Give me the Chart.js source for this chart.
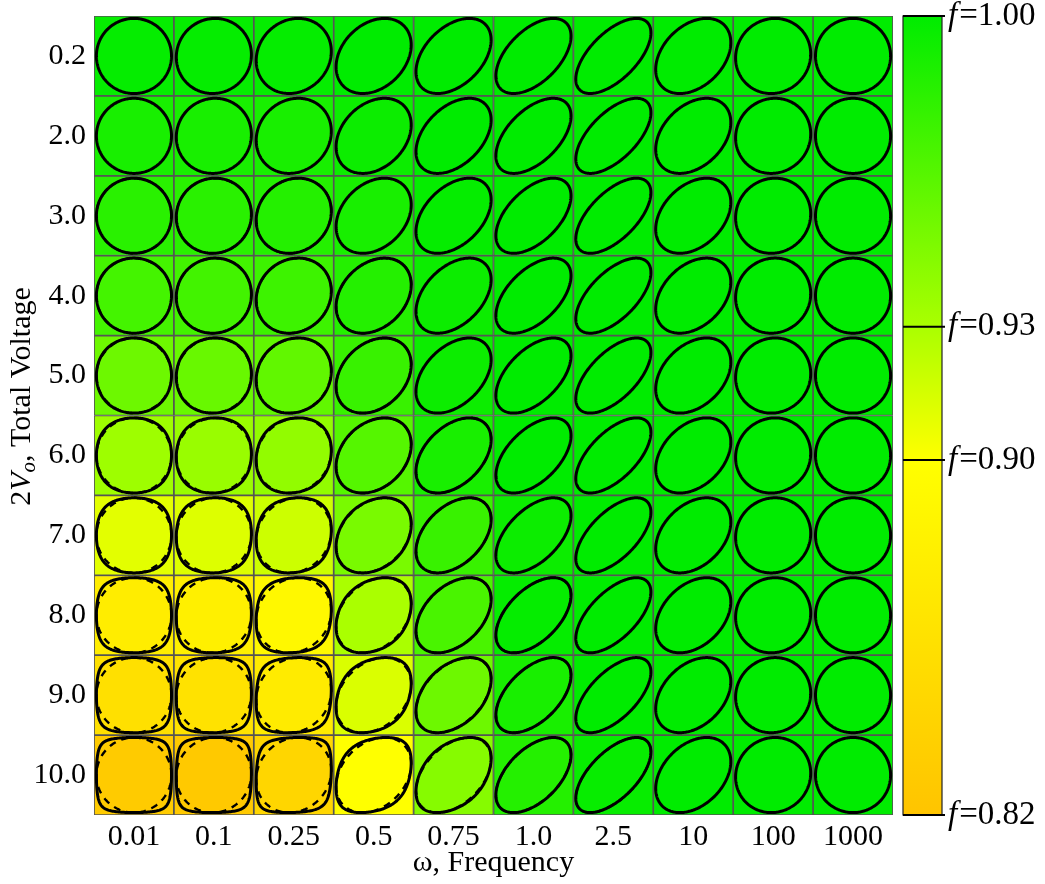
<!DOCTYPE html>
<html>
<head>
<meta charset="utf-8">
<script src="https://cdn.jsdelivr.net/npm/chart.js@4.4.1/dist/chart.umd.min.js"></script>
<style>
  body { margin: 0; background: #fff; }
  #wrap { width: 1045px; height: 884px; }
</style>
</head>
<body>
<div id="wrap"><canvas id="loopChart" width="1045" height="884"></canvas></div>
<script>
// categories
const freqLabels = ['0.01', '0.1', '0.25', '0.5', '0.75', '1.0', '2.5', '10', '100', '1000'];
const voltLabels = ['0.2', '2.0', '3.0', '4.0', '5.0', '6.0', '7.0', '8.0', '9.0', '10.0'];

// f value of each cell, one array per voltage row
const fV02 = [0.998, 0.998, 0.998, 1.0, 1.0, 1.0, 1.0, 1.0, 1.0, 1.0];
const fV2 = [0.990, 0.990, 0.990, 0.995, 1.0, 1.0, 1.0, 1.0, 1.0, 1.0];
const fV3 = [0.983, 0.983, 0.985, 0.990, 0.998, 1.0, 1.0, 1.0, 1.0, 1.0];
const fV4 = [0.972, 0.973, 0.975, 0.985, 0.995, 1.0, 1.0, 1.0, 1.0, 1.0];
const fV5 = [0.955, 0.957, 0.960, 0.977, 0.995, 1.0, 1.0, 1.0, 1.0, 1.0];
const fV6 = [0.935, 0.937, 0.940, 0.965, 0.990, 1.0, 1.0, 1.0, 1.0, 1.0];
const fV7 = [0.910, 0.912, 0.918, 0.950, 0.977, 0.995, 1.0, 1.0, 1.0, 1.0];
const fV8 = [0.875, 0.880, 0.890, 0.930, 0.970, 0.998, 1.0, 1.0, 1.0, 1.0];
const fV9 = [0.858, 0.860, 0.873, 0.913, 0.955, 0.990, 1.0, 1.0, 1.0, 1.0];
const fV10 = [0.830, 0.827, 0.845, 0.900, 0.945, 0.985, 0.997, 1.0, 1.0, 1.0];
const fValues = [fV02, fV2, fV3, fV4, fV5, fV6, fV7, fV8, fV9, fV10];

// phase lag of the loop per frequency column, degrees (90 = circle)
const phaseDeg = [90, 88, 83, 73, 65, 58, 52, 69, 87, 90];

// how far the solid loop is squashed away from the dashed ellipse
const sqV02 = [0, 0, 0, 0, 0, 0, 0, 0, 0, 0];
const sqV2 = [0, 0, 0, 0, 0, 0, 0, 0, 0, 0];
const sqV3 = [0.08, 0.08, 0.04, 0, 0, 0, 0, 0, 0, 0];
const sqV4 = [0.18, 0.18, 0.14, 0.04, 0, 0, 0, 0, 0, 0];
const sqV5 = [0.32, 0.32, 0.25, 0.08, 0, 0, 0, 0, 0, 0];
const sqV6 = [0.5, 0.5, 0.42, 0.18, 0.04, 0, 0, 0, 0, 0];
const sqV7 = [0.7, 0.7, 0.6, 0.3, 0.1, 0, 0, 0, 0, 0];
const sqV8 = [0.95, 0.95, 0.85, 0.42, 0.18, 0.04, 0, 0, 0, 0];
const sqV9 = [1.15, 1.15, 1.05, 0.55, 0.28, 0.1, 0, 0, 0, 0];
const sqV10 = [1.3, 1.3, 1.2, 0.7, 0.42, 0.18, 0.04, 0, 0, 0];
const squareness = [sqV02, sqV2, sqV3, sqV4, sqV5, sqV6, sqV7, sqV8, sqV9, sqV10];

// colour bar ticks
const cbTicks = [1.00, 0.93, 0.90, 0.82];

// colours at the colour bar ticks
const cbColors = [[0, 236, 0], [170, 255, 0], [255, 255, 0], [255, 196, 0]];
const SERIF = '"Liberation Serif", "Times New Roman", serif';

function fToColor(f) {
  for (let i = 0; i < cbTicks.length - 1; i++) {
    const hi = cbTicks[i], lo = cbTicks[i + 1];
    if (f >= lo || i === cbTicks.length - 2) {
      const t = Math.min(1, Math.max(0, (hi - f) / (hi - lo)));
      const a = cbColors[i], b = cbColors[i + 1];
      const c = a.map((v, k) => Math.round(v + (b[k] - v) * t));
      return 'rgb(' + c.join(',') + ')';
    }
  }
}

function traceLoop(ctx, cx, cy, hw, hh, phi, k) {
  ctx.beginPath();
  const n = 240;
  const norm = k > 0 ? Math.tanh(k) : 1;
  for (let i = 0; i <= n; i++) {
    const t = i / n * 2 * Math.PI;
    let u = Math.cos(t), v = Math.cos(t - phi);
    if (k > 0) {
      u = Math.tanh(k * u) / norm;
      v = Math.tanh(k * v) / norm;
    }
    const px = cx + hw * u, py = cy - hh * v;
    if (i === 0) ctx.moveTo(px, py); else ctx.lineTo(px, py);
  }
  ctx.closePath();
}

// loops drawn on top of every cell
const loopPlugin = {
  id: 'loops',
  afterDatasetsDraw(chart) {
    const ctx = chart.ctx, xs = chart.scales.x, ys = chart.scales.y;
    const hw = (xs.getPixelForValue(1) - xs.getPixelForValue(0)) / 2 * 0.94;
    const hh = Math.abs(ys.getPixelForValue(1) - ys.getPixelForValue(0)) / 2 * 0.94;
    ctx.save();
    ctx.strokeStyle = '#000';
    ctx.lineJoin = 'round';
    voltLabels.forEach((v, r) => {
      freqLabels.forEach((f, c) => {
        const cx = xs.getPixelForValue(c), cy = ys.getPixelForValue(r + 0.5);
        const phi = phaseDeg[c] * Math.PI / 180;
        const k = squareness[r][c];
        if (k > 0) {
          ctx.setLineDash([7, 6]);
          ctx.lineWidth = 2.4;
          traceLoop(ctx, cx, cy, hw, hh, phi, 0);
          ctx.stroke();
        }
        ctx.setLineDash([]);
        ctx.lineWidth = 3;
        traceLoop(ctx, cx, cy, hw, hh, phi, k);
        ctx.stroke();
      });
    });
    ctx.restore();
  },
  afterDraw(chart) {
    const ctx = chart.ctx, area = chart.chartArea, cb = chart.scales.cb;
    ctx.save();
    // colour bar
    const x0 = area.right + 10, w = 39;
    const top = cb.getPixelForValue(cbTicks[0]);
    const bot = cb.getPixelForValue(cbTicks[cbTicks.length - 1]);
    const grad = ctx.createLinearGradient(0, top, 0, bot);
    cbTicks.forEach((f, i) => {
      grad.addColorStop((cb.getPixelForValue(f) - top) / (bot - top), 'rgb(' + cbColors[i].join(',') + ')');
    });
    ctx.fillStyle = grad;
    ctx.fillRect(x0, top, w, bot - top);
    ctx.strokeStyle = '#222';
    ctx.lineWidth = 1.2;
    ctx.strokeRect(x0, top, w, bot - top);
    ctx.lineWidth = 2;
    ctx.strokeStyle = '#000';
    ctx.textBaseline = 'middle';
    ctx.fillStyle = '#000';
    cbTicks.forEach((f) => {
      const y = cb.getPixelForValue(f);
      ctx.beginPath();
      ctx.moveTo(x0, y);
      ctx.lineTo(x0 + w + 3, y);
      ctx.stroke();
      let tx = x0 + w + 6;
      ctx.font = 'italic 33px ' + SERIF;
      ctx.fillText('f', tx, y);
      tx += ctx.measureText('f').width + 2;
      ctx.font = '33px ' + SERIF;
      ctx.fillText('=' + f.toFixed(2), tx, y);
    });

    // y axis title with subscript
    const parts = [
      { t: '2', font: '30px ' + SERIF, dy: 0 },
      { t: 'V', font: 'italic 30px ' + SERIF, dy: 0 },
      { t: 'o', font: 'italic 21px ' + SERIF, dy: 7 },
      { t: ', Total Voltage', font: '30px ' + SERIF, dy: 0 }
    ];
    let total = 0;
    parts.forEach(p => { ctx.font = p.font; p.w = ctx.measureText(p.t).width; total += p.w; });
    ctx.translate(22, (area.top + area.bottom) / 2 - 19);
    ctx.rotate(-Math.PI / 2);
    let px = -total / 2;
    parts.forEach(p => {
      ctx.font = p.font;
      ctx.fillText(p.t, px, p.dy);
      px += p.w;
    });
    ctx.restore();
  }
};

function createLoopChart() {
  const ctx = document.getElementById('loopChart').getContext('2d');
  const datasets = voltLabels.map((v, r) => ({
    label: v,
    data: freqLabels.map(() => 1),
    backgroundColor: fValues[r].map(fToColor),
    borderColor: '#555555',
    borderWidth: 1.2,
    borderSkipped: false,
    barPercentage: 1,
    categoryPercentage: 1
  }));

  return new Chart(ctx, {
    type: 'bar',
    data: { labels: freqLabels, datasets: datasets },
    options: {
      responsive: false,
      animation: false,
      events: [],
      layout: { padding: { top: 16, right: 152, bottom: 0, left: 0 } },
      plugins: { legend: { display: false }, tooltip: { enabled: false } },
      scales: {
        x: {
          stacked: true,
          offset: true,
          grid: { display: false, drawTicks: false },
          border: { display: false },
          ticks: { color: '#000', font: { family: SERIF, size: 30 }, padding: 4, maxRotation: 0, autoSkip: false },
          title: {
            display: true,
            text: 'ω, Frequency',
            color: '#000',
            font: { family: SERIF, size: 30 },
            padding: { top: 0, bottom: 3 }
          },
          afterFit: s => { s.height = 69; s.paddingLeft = 0; s.paddingRight = 0; }
        },
        y: {
          stacked: true,
          min: 0,
          max: 10,
          reverse: true,
          grid: { display: false, drawTicks: false },
          border: { display: false },
          afterBuildTicks: s => { s.ticks = voltLabels.map((v, i) => ({ value: i + 0.5 })); },
          ticks: {
            color: '#000',
            font: { family: SERIF, size: 30 },
            padding: 8,
            callback: (value, index) => voltLabels[index]
          },
          afterFit: s => { s.width = 94; s.paddingTop = 0; s.paddingBottom = 0; }
        },
        cb: {
          type: 'linear',
          position: 'right',
          display: false,
          min: cbTicks[cbTicks.length - 1],
          max: cbTicks[0]
        }
      }
    },
    plugins: [loopPlugin]
  });
}

document.addEventListener('DOMContentLoaded', createLoopChart);
</script>
</body>
</html>
